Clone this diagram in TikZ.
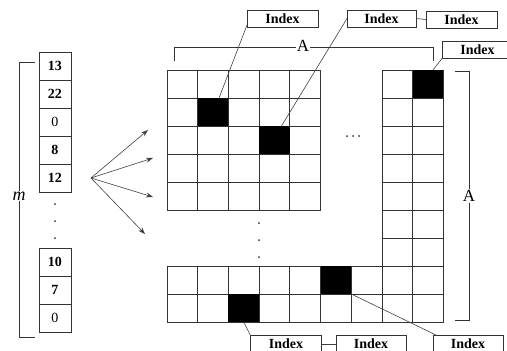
\documentclass[tikz,border=0pt]{standalone}
\usepackage{fontspec}
\setmainfont{Liberation Serif}
\usetikzlibrary{calc,arrows.meta}
\begin{document}
\begin{tikzpicture}[x=1pt,y=-1pt,
  ln/.style={draw=black!80, line width=0.8pt},
  cell/.style={ln, minimum width=30.7pt, minimum height=28pt, inner sep=0pt, outer sep=0pt},
  vbox/.style={ln, minimum width=32pt, minimum height=28pt, inner sep=0pt, outer sep=0pt, font=\fontsize{14}{14}\selectfont\bfseries},
  vboxn/.style={vbox, font=\fontsize{14}{14}\selectfont},
  idx/.style={ln, minimum width=71pt, minimum height=17pt, inner sep=0pt, outer sep=0pt, font=\fontsize{14}{14}\selectfont\bfseries},
  lead/.style={draw=black!75, line width=0.6pt},
  arr/.style={draw=black!75, line width=0.6pt, -{Stealth[length=7pt,width=5pt]}},
  dotn/.style={circle, fill=black!80, inner sep=0pt, minimum size=2pt},
  lbl/.style={fill=white, inner sep=1pt, font=\fontsize{17}{17}\selectfont},
]
\useasboundingbox (0,0) rectangle (507,351);

% main grid
\foreach \i in {0,...,4} \foreach \j in {0,...,4}
  \node[cell] (c-\i-\j) at ({167+30.7*(\i+0.5)},{70+28*(\j+0.5)}) {};
% right column
\foreach \i in {7,8} \foreach \j in {0,...,8}
  \node[cell] (c-\i-\j) at ({167+30.7*(\i+0.5)},{70+28*(\j+0.5)}) {};
% bottom strip
\foreach \i in {0,...,6} \foreach \j in {7,8}
  \node[cell] (c-\i-\j) at ({167+30.7*(\i+0.5)},{70+28*(\j+0.5)}) {};
% black cells
\foreach \c in {c-1-1, c-3-2, c-8-0, c-5-7, c-2-8}
  \fill[black] (\c.north west) rectangle (\c.south east);

% value column
\foreach \v/\y/\s [count=\k] in {13/66/vbox, 22/94/vbox, 0/122/vboxn, 8/150/vbox, 12/178/vbox, 10/262/vbox, 7/290/vbox, 0/318/vboxn}
  \node[\s] (v\k) at (55,\y) {\v};
\node[dotn] (vd1) at (55,204) {};
\node[dotn] (vd2) at (55,221) {};
\node[dotn] (vd3) at (55,238) {};

% m bracket
\draw[ln, line width=0.7pt] (35,62) -- (19,62) -- (19,337) -- (35,337);
\node[lbl, font=\fontsize{18}{18}\selectfont\itshape] (m) at (19,196) {m};

% top A bracket
\draw[ln, line width=0.7pt] (174,61) -- (174,47) -- (433,47) -- (433,61);
\node[lbl] (Atop) at (303,46) {A};
% right A bracket
\draw[ln, line width=0.7pt] (455,71) -- (469,71) -- (469,320) -- (455,320);
\node[lbl] (Aright) at (469,196) {A};

% fan of arrows
\coordinate (fan) at (91,178);
\coordinate (t1) at (148,130);
\coordinate (t2) at (153,158);
\coordinate (t3) at (153,197);
\coordinate (t4) at (145,234);
\foreach \t in {t1,t2,t3,t4} \draw[arr] (fan) -- (\t);

% dots
\node[dotn] (hd1) at (347,136) {};
\node[dotn] (hd2) at (353,136) {};
\node[dotn] (hd3) at (359,136) {};
\node[dotn] (md1) at (259,223) {};
\node[dotn] (md2) at (259,240) {};
\node[dotn] (md3) at (259,257) {};

% index boxes
\node[idx] (T1) at (282.5,18.5) {Index};
\node[idx, minimum width=69pt] (T2) at (381.5,18.5) {Index};
\node[idx] (T3) at (461.5,19.5) {Index};
\node[idx] (T4) at (477.5,50) {Index};
\node[idx] (B1) at (286,344) {Index};
\node[idx, minimum width=70pt] (B2) at (371,344) {Index};
\node[idx, minimum width=70pt] (B3) at (468,344) {Index};

% leaders
\draw[lead] ($(T1.south west)+(0,-2)$) -- ($(c-1-1.north)+(6,0)$);
\draw[lead] (T2.west) -- ($(c-3-2.north)+(7,0)$);
\draw[lead] (T2.east) -- (T3.west);
\draw[lead] (T4.south west) -- ($(c-8-0.north)+(5,0)$);
\draw[lead] (c-2-8.south) -- (B1.north west);
\draw[lead] (B1.east) -- (B2.west);
\draw[lead] (c-5-7.south east) -- ($(B3.north west)+(4,0)$);
\end{tikzpicture}
\end{document}
